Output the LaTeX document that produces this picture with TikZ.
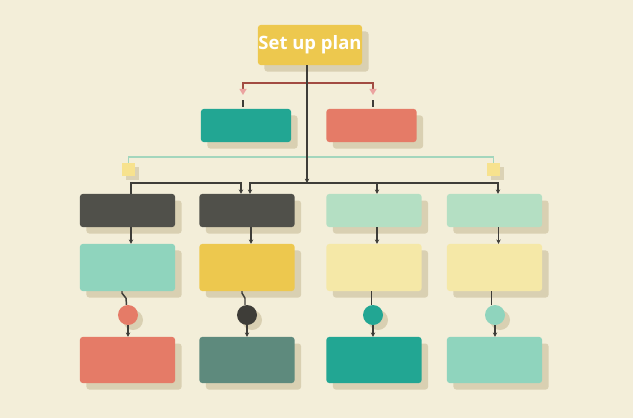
\documentclass[tikz,border=0pt]{standalone}
\usepackage{fontspec}
\newfontfamily\titlefont{Open Sans}
\usetikzlibrary{shadows,arrows.meta}

\definecolor{bgc}{HTML}{F3EED9}
\definecolor{shadc}{HTML}{C9BC98}
\definecolor{yelc}{HTML}{EDC84E}
\definecolor{tealc}{HTML}{22A693}
\definecolor{salmc}{HTML}{E57B67}
\definecolor{darkc}{HTML}{50504A}
\definecolor{lgrnc}{HTML}{B4DFC3}
\definecolor{mintc}{HTML}{8FD4BD}
\definecolor{palec}{HTML}{F5E8A7}
\definecolor{slatc}{HTML}{5E8A7D}
\definecolor{redlc}{HTML}{A24C42}
\definecolor{pinkc}{HTML}{EBA3A0}
\definecolor{grnlc}{HTML}{A3D6BD}
\definecolor{sqc}{HTML}{F7E28E}
\definecolor{linec}{HTML}{3E3D38}

\begin{document}
\begin{tikzpicture}[x=0.04cm,y=-0.04cm,
  card/.style={rounded corners=3pt,minimum width=3.8cm,inner sep=0,
    drop shadow={shadow xshift=0.26cm,shadow yshift=-0.26cm,fill=shadc,opacity=0.6}},
  dot/.style={circle,minimum size=0.8cm,inner sep=0,
    drop shadow={shadow xshift=0.2cm,shadow yshift=-0.2cm,fill=shadc,opacity=0.6}},
  sq/.style={minimum size=0.52cm,inner sep=0,fill=sqc,
    drop shadow={shadow xshift=0.16cm,shadow yshift=-0.16cm,fill=shadc,opacity=0.55}},
  wire/.style={draw=linec,line width=1.7pt},
  link/.style={wire,-{Stealth[length=5pt,width=5pt]}},
  redwire/.style={draw=redlc,line width=2pt,-{Triangle[color=pinkc,fill=pinkc,length=7pt,width=8pt]}}]

\fill[bgc] (0,0) rectangle (633,418);

\node[card,fill=yelc,minimum width=4.16cm,minimum height=1.6cm] (plan) at (310,45)
  {\titlefont\bfseries\fontsize{21}{24}\selectfont\color{white}Set up plan};

\node[card,fill=tealc,minimum width=3.6cm,minimum height=1.32cm] (m1) at (246,125.5) {};
\node[card,fill=salmc,minimum width=3.6cm,minimum height=1.32cm] (m2) at (371.5,125.5) {};

\node[sq] (s1) at (128.5,169.5) {};
\node[sq] (s2) at (493.5,169.5) {};

\node[card,fill=darkc,minimum height=1.32cm] (r1a) at (127.5,210.5) {};
\node[card,fill=darkc,minimum height=1.32cm] (r1b) at (247,210.5) {};
\node[card,fill=lgrnc,minimum height=1.32cm] (r1c) at (374,210.5) {};
\node[card,fill=lgrnc,minimum height=1.32cm] (r1d) at (494.5,210.5) {};

\node[card,fill=mintc,minimum height=1.88cm] (r2a) at (127.5,267.5) {};
\node[card,fill=yelc,minimum height=1.88cm] (r2b) at (247,267.5) {};
\node[card,fill=palec,minimum height=1.88cm] (r2c) at (374,267.5) {};
\node[card,fill=palec,minimum height=1.88cm] (r2d) at (494.5,267.5) {};

\node[dot,fill=salmc] (c1) at (128,315) {};
\node[dot,fill=linec] (c2) at (247,315) {};
\node[dot,fill=tealc] (c3) at (373,315) {};
\node[dot,fill=mintc] (c4) at (495,315) {};

\node[card,fill=salmc,minimum height=1.84cm] (r3a) at (127.5,360) {};
\node[card,fill=slatc,minimum height=1.84cm] (r3b) at (247,360) {};
\node[card,fill=tealc,minimum height=1.84cm] (r3c) at (374,360) {};
\node[card,fill=mintc,minimum height=1.84cm] (r3d) at (494.5,360) {};

\coordinate (j) at (307,183);
\coordinate (rj) at (307,83);
\coordinate (gj) at (307,157);
\coordinate (bl) at (186,183);
\coordinate (ra) at (243,95);
\coordinate (rb) at (373,95);

\draw[draw=grnlc,line width=1.5pt] (s1.north) |- (gj) -| (s2.north);
\draw[redwire] (rj) -| (ra);
\draw[redwire] (rj) -| (rb);
\draw[wire] (ra) ++(0,5) -- ++(0,7);
\draw[wire] (rb) ++(0,5) -- ++(0,7);
\draw[link] (plan.south -| j) -- (j);

\draw[link] ([xshift=0.14cm]r1a.north) |- (bl) -| ([xshift=-0.24cm]r1b.north);
\draw[link] (j) -| ([xshift=0.12cm]r1b.north);
\draw[link] (j) -| ([xshift=0.12cm]r1c.north);
\draw[link] (j) -| ([xshift=0.14cm]r1d.north);

\draw[link] ([xshift=0.14cm]r1a.south) -- ([xshift=0.14cm]r2a.north);
\draw[link] ([xshift=0.16cm]r1b.south) -- ([xshift=0.16cm]r2b.north);
\draw[link] ([xshift=0.12cm]r1c.south) -- ([xshift=0.12cm]r2c.north);
\draw[link] ([xshift=0.16cm]r1d.south) -- ([xshift=0.16cm]r2d.north);

\draw[wire] ([xshift=-0.22cm]r2a.south) -- ++(0,2) -- ++(4,5) -- ([xshift=-0.06cm]c1.north);
\draw[wire] ([xshift=-0.2cm]r2b.south) -- ++(0,2) -- ++(3,5) -- ([xshift=-0.08cm]c2.north);
\draw[wire] ([xshift=-0.1cm]r2c.south) -- ([xshift=-0.1cm]r2c.south |- c3.north);
\draw[wire] ([xshift=-0.12cm]r2d.south) -- ([xshift=-0.12cm]r2d.south |- c4.north);

\draw[link] (c1.south) -- (c1.south |- r3a.north);
\draw[link] (c2.south) -- (c2.south |- r3b.north);
\draw[link] (c3.south) -- (c3.south |- r3c.north);
\draw[link] (c4.south) -- (c4.south |- r3d.north);
\end{tikzpicture}
\end{document}
